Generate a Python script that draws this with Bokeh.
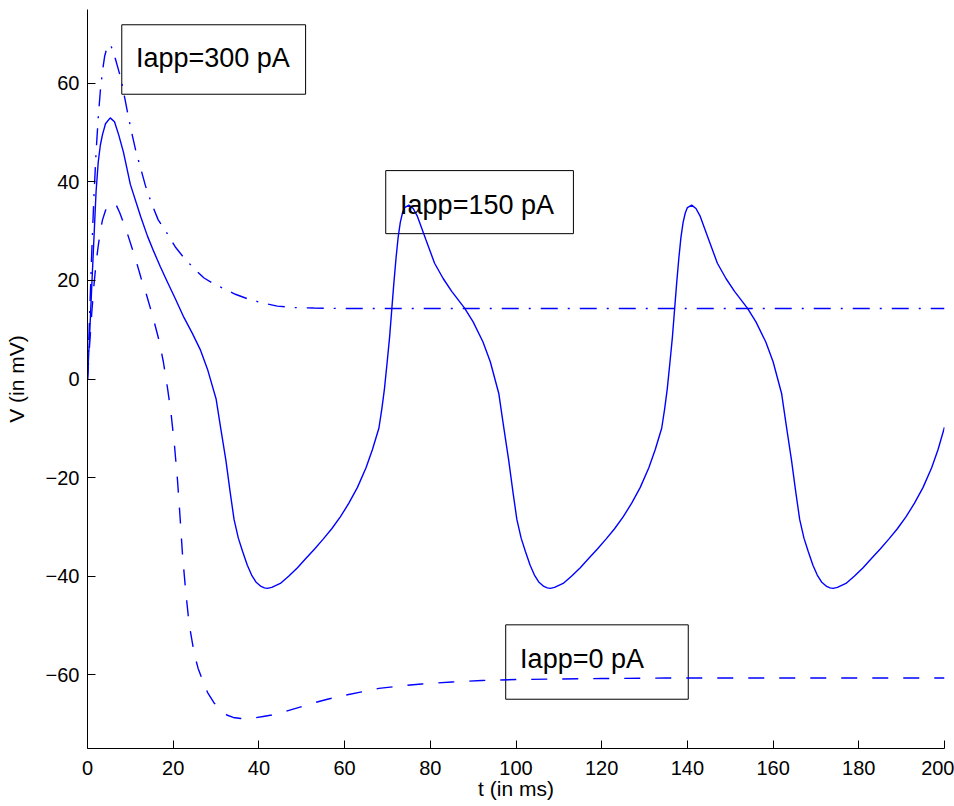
from bokeh.plotting import figure
from bokeh.models import Range1d, FixedTicker, Label
from bokeh.embed import file_html
from bokeh.resources import INLINE

# ---------------- data ----------------
# Iapp = 150 pA (solid, repetitive spiking)
t150 = [0, 0.5, 1, 1.5, 2, 2.5, 3, 3.5, 4.2, 5.3, 6.3, 7.3, 8.4, 10, 12.4, 14, 15.5, 17, 18.7,
        20.5, 22.5, 24.5, 26.4, 28, 30, 31, 32.3, 33.3, 34.2, 35.2, 36.2, 37.3, 38.3, 39.3, 40.5, 41.3,
        42, 43, 45, 47, 49, 51, 53, 55, 57, 59, 61, 63, 65, 66.5, 68, 68.7, 69.3, 70, 70.5, 71, 71.5, 72,
        72.5, 73, 73.5, 74, 75, 76, 77, 79, 81, 83, 85, 88, 90, 92.3, 94, 96, 97, 98.3, 99.3, 100.2, 101.2,
        102.2, 103.3, 104.3, 105.3, 106.5, 107.3,
        108, 109, 111, 113, 115, 117, 119, 121, 123, 125, 127, 129, 131, 132.5, 134, 134.7, 135.3, 136,
        136.5, 137, 137.5, 138, 138.5, 139, 139.5, 140, 141, 142, 143, 145, 147, 149, 151, 154, 156, 158.3,
        160, 162, 163, 164.3, 165.3, 166.2, 167.2, 168.2, 169.3, 170.3, 171.3, 172.5, 173.3,
        174, 175, 177, 179, 181, 183, 185, 187, 189, 191, 193, 195, 197, 198.5, 200]
v150 = [0, 9, 19, 28.5, 38, 44, 47.5, 49.6, 51.8, 53, 52.2, 49.5, 46, 39.5, 33, 29, 25.8, 22.8, 19.6,
        16.3, 12.5, 9.2, 5.8, 2, -4, -9.5, -16.5, -23, -28.5, -32.3, -35, -37.8, -39.8, -41.2, -42.1, -42.4,
        -42.5, -42.3, -41.5, -40, -38.3, -36.4, -34.5, -32.5, -30.4, -28, -25.2, -22, -18, -14.3, -10, -6,
        -2, 4, 8.5, 14, 19.5, 24.5, 28.8, 31.8, 33.7, 34.8, 35.3, 34.6, 33, 28.2, 23.5, 20.4, 17.8, 14.4,
        11.6, 7.5, 3.5, -3, -9, -16.5, -23, -28.5, -32.3, -35, -37.8, -39.8, -41.2, -42.1, -42.4,
        -42.5, -42.3, -41.5, -40, -38.3, -36.4, -34.5, -32.5, -30.4, -28, -25.2, -22, -18, -14.3, -10, -6,
        -2, 4, 8.5, 14, 19.5, 24.5, 28.8, 31.8, 33.7, 34.8, 35.3, 34.6, 33, 28.2, 23.5, 20.4, 17.8, 14.4,
        11.6, 7.5, 3.5, -3, -9, -16.5, -23, -28.5, -32.3, -35, -37.8, -39.8, -41.2, -42.1, -42.4,
        -42.5, -42.3, -41.5, -40, -38.3, -36.4, -34.5, -32.5, -30.4, -28, -25.2, -22, -18, -14.3, -9.8]

# Iapp = 0 pA (dashed, single spike then rest)
t0 = [0, 0.5, 1, 1.5, 2, 2.5, 3, 3.5, 4.2, 5, 5.8, 6.6, 7.5, 8.5, 9.5, 10.5, 11.5, 12.5, 13.7, 14.8,
      15.8, 16.7, 17.7, 18.7, 19.5, 20.3, 21, 21.6, 22.2, 22.9, 23.7, 24.9, 25.8, 26.8, 28, 29.5, 31,
      32.5, 34, 35.8, 37.5, 39, 41, 43, 45, 48, 50, 53, 56, 60, 64, 68, 73, 78, 85, 92, 100, 110, 120,
      135, 150, 170, 200]
v0 = [0, 7, 13.5, 19, 23.5, 27, 30, 32.3, 34.2, 35.4, 35.8, 35.5, 33.8, 31.5, 29, 26.3, 23.5, 20.5,
      17.3, 14, 10.8, 7.8, 3.5, -2, -7, -13.5, -20.5, -28, -36, -42.9, -49.6, -55.7, -58.7, -61, -63.6,
      -65.7, -67.2, -68.2, -68.7, -68.9, -69, -68.8, -68.5, -68.2, -67.8, -67, -66.5, -65.7, -65,
      -64.2, -63.5, -62.8, -62.3, -61.9, -61.5, -61.2, -61, -60.9, -60.8, -60.7, -60.7, -60.7, -60.7]

# Iapp = 300 pA (dash-dot, spike then depolarised plateau)
t300 = [0, 0.5, 1, 1.5, 2, 2.5, 3, 3.5, 4, 4.7, 5.5, 6.5, 7.8, 8.7, 9.6, 10.5, 11.3, 12.4, 13.5, 14.8,
        16.5, 18.7, 20.5, 22.5, 25, 27.2, 29.5, 31.9, 34.5, 37.3, 40.5, 44.3, 48, 52.8, 60.7, 80, 100,
        150, 200]
v300 = [0, 13, 26, 37, 46, 53, 58.5, 62.5, 65.5, 67.8, 67.6, 65, 61, 57, 53, 49.3, 46.2, 42.8, 39.3,
        36, 32.3, 29.4, 26.8, 24.6, 22.3, 20.5, 19.3, 18.3, 17.2, 16.3, 15.5, 14.8, 14.5, 14.4, 14.3,
        14.3, 14.3, 14.3, 14.3]

x_ticks = [0, 20, 40, 60, 80, 100, 120, 140, 160, 180, 200]
x_labels = ["0", "20", "40", "60", "80", "100", "120", "140", "160", "180", "200"]
y_ticks = [-60, -40, -20, 0, 20, 40, 60]
y_labels = ["\u221260", "\u221240", "\u221220", "0", "20", "40", "60"]

annotations = ["Iapp=300 pA", "Iapp=150 pA", "Iapp=0 pA"]

# ---------------- figure ----------------
FONT = "Liberation Sans"
BLUE = "#0000ff"

p = figure(width=954, height=806, output_backend="svg", toolbar_location=None,
           x_range=Range1d(0, 200), y_range=Range1d(-75, 75),
           min_border_left=87, min_border_right=10, min_border_top=9, min_border_bottom=58)
p.grid.visible = False
p.outline_line_color = None
p.background_fill_color = "white"
p.border_fill_color = "white"

p.xaxis.ticker = FixedTicker(ticks=x_ticks)
p.xaxis.major_label_overrides = {t: s for t, s in zip(x_ticks, x_labels)}
p.yaxis.ticker = FixedTicker(ticks=y_ticks)
p.yaxis.major_label_overrides = {t: s for t, s in zip(y_ticks, y_labels)}

for ax in (p.xaxis, p.yaxis):
    ax.axis_line_color = "black"
    ax.axis_line_width = 1
    ax.major_tick_line_color = "black"
    ax.major_tick_in = 8
    ax.major_tick_out = 0
    ax.minor_tick_in = 0
    ax.minor_tick_out = 0
    ax.minor_tick_line_color = None
    ax.major_label_text_font = FONT
    ax.major_label_text_font_size = "20px"
    ax.major_label_text_color = "black"
    ax.axis_label_text_font = FONT
    ax.axis_label_text_font_size = "21px"
    ax.axis_label_text_font_style = "normal"
    ax.axis_label_text_color = "black"

p.xaxis.axis_label = "t (in ms)"
p.yaxis.axis_label = "V (in mV)"
p.xaxis.major_label_standoff = 12
p.xaxis.axis_label_standoff = -1
p.yaxis.major_label_standoff = 8
p.yaxis.axis_label_standoff = 15

# annotation boxes (drawn first, lines drawn over them)
boxes = [(8.0, 50.9, 71.9, 57.8), (69.6, 113.4, 42.3, 29.5), (97.6, 140.2, -49.9, -65.0)]
text_pos = [(11.3, 65.2), (72.95, 35.4), (100.96, -56.9)]
for (l, r, t, b), (tx, ty), txt in zip(boxes, text_pos, annotations):
    p.quad(left=[l], right=[r], top=[t], bottom=[b], fill_color=None,
           line_color="black", line_width=1)
    p.add_layout(Label(x=tx, y=ty, text=txt, text_font=FONT, text_font_size="27px",
                       text_color="black", text_align="left", text_baseline="alphabetic"))

p.line(t150, v150, line_color=BLUE, line_width=1.4)
p.line(t0, v0, line_color=BLUE, line_width=1.4, line_dash="16 15")
p.line(t300, v300, line_color=BLUE, line_width=1.4, line_dash="17 10 2 10")

open("out.html", "w").write(file_html(p, INLINE))
